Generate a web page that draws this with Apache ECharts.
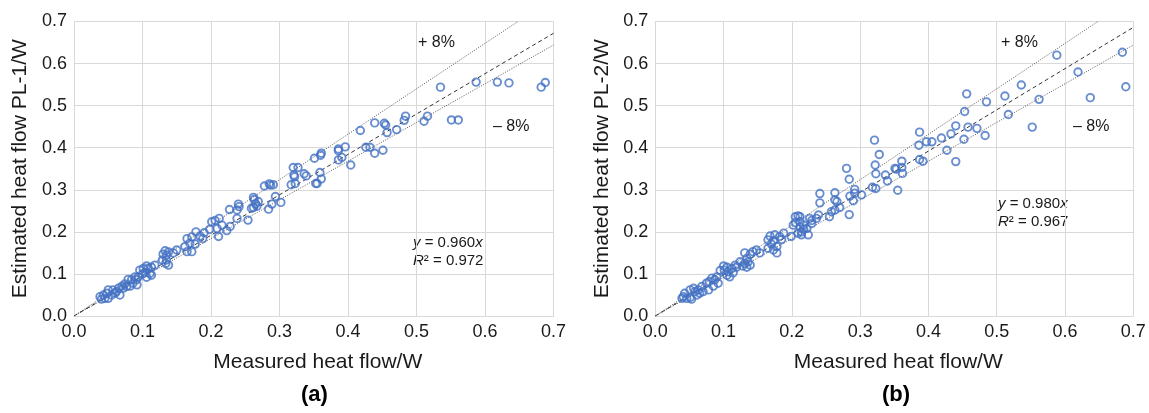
<!DOCTYPE html>
<html><head><meta charset="utf-8">
<script src="https://cdn.jsdelivr.net/npm/echarts@6/dist/echarts.min.js"></script>
<style>html,body{margin:0;padding:0;background:#fff}#c{width:1149px;height:413px}</style>
</head><body><div id="c"></div>
<script>
// ---- data ----
const axisTicks = [0.0, 0.1, 0.2, 0.3, 0.4, 0.5, 0.6, 0.7];
const panelLabels = ['(a)', '(b)'];
const yTitles = ['Estimated heat flow PL-1/W', 'Estimated heat flow PL-2/W'];
const xTitle = 'Measured heat flow/W';
const fitSlopes = [0.960, 0.980];
const fitR2 = ['0.972', '0.967'];
const bandUpper = 1.08;
const bandLower = 0.92;

const measuredA = [0.535,0.587,0.618,0.635,0.682,0.688,0.551,0.561,0.511,0.516,0.484,0.482,0.471,0.457,0.453,0.455,0.439,0.418,0.451,0.439,0.426,0.432,0.404,0.396,0.386,0.386,0.391,0.386,0.361,0.360,0.351,0.327,0.320,0.321,0.322,0.336,0.339,0.359,0.361,0.353,0.355,0.317,0.323,0.278,0.285,0.291,0.287,0.294,0.302,0.289,0.284,0.262,0.263,0.269,0.265,0.267,0.259,0.262,0.254,0.240,0.241,0.238,0.227,0.238,0.228,0.223,0.212,0.206,0.201,0.216,0.209,0.211,0.190,0.198,0.178,0.184,0.188,0.165,0.172,0.169,0.177,0.172,0.165,0.162,0.150,0.145,0.138,0.133,0.135,0.130,0.135,0.138,0.129,0.134,0.118,0.113,0.106,0.101,0.108,0.104,0.111,0.106,0.113,0.096,0.100,0.094,0.089,0.084,0.091,0.086,0.092,0.079,0.082,0.077,0.072,0.070,0.074,0.065,0.062,0.060,0.067,0.057,0.055,0.050,0.048,0.043,0.045,0.038,0.040,0.050];
const estimatedA = [0.544,0.556,0.556,0.554,0.544,0.555,0.466,0.466,0.463,0.475,0.475,0.465,0.443,0.436,0.458,0.454,0.459,0.441,0.394,0.387,0.401,0.401,0.359,0.402,0.397,0.393,0.377,0.371,0.387,0.382,0.375,0.353,0.353,0.335,0.331,0.338,0.333,0.341,0.326,0.315,0.315,0.312,0.315,0.309,0.314,0.312,0.311,0.284,0.270,0.266,0.254,0.282,0.277,0.272,0.267,0.261,0.256,0.258,0.228,0.266,0.260,0.252,0.253,0.232,0.213,0.203,0.232,0.227,0.224,0.216,0.208,0.189,0.198,0.206,0.200,0.190,0.184,0.184,0.188,0.173,0.171,0.153,0.153,0.165,0.157,0.150,0.152,0.155,0.145,0.147,0.133,0.121,0.133,0.125,0.121,0.116,0.119,0.113,0.113,0.103,0.101,0.092,0.097,0.109,0.100,0.093,0.093,0.086,0.086,0.078,0.074,0.087,0.071,0.070,0.066,0.071,0.076,0.066,0.058,0.054,0.050,0.062,0.050,0.062,0.054,0.050,0.042,0.046,0.040,0.042];

const measuredB = [0.588,0.684,0.689,0.619,0.637,0.562,0.536,0.512,0.517,0.552,0.485,0.456,0.453,0.440,0.458,0.471,0.483,0.452,0.433,0.419,0.427,0.440,0.405,0.397,0.387,0.386,0.387,0.392,0.321,0.328,0.322,0.323,0.337,0.340,0.351,0.353,0.361,0.361,0.362,0.355,0.318,0.323,0.302,0.280,0.284,0.241,0.241,0.263,0.263,0.266,0.285,0.292,0.292,0.290,0.284,0.270,0.263,0.258,0.255,0.239,0.236,0.229,0.226,0.212,0.217,0.212,0.222,0.224,0.214,0.229,0.205,0.209,0.212,0.205,0.202,0.214,0.209,0.217,0.199,0.188,0.182,0.185,0.175,0.168,0.165,0.173,0.170,0.165,0.178,0.178,0.173,0.148,0.143,0.153,0.139,0.131,0.134,0.136,0.131,0.139,0.124,0.128,0.134,0.117,0.119,0.112,0.105,0.107,0.101,0.109,0.105,0.114,0.100,0.095,0.090,0.087,0.092,0.083,0.079,0.085,0.075,0.078,0.068,0.063,0.065,0.058,0.061,0.056,0.070,0.051,0.043,0.041,0.046,0.039,0.051,0.053];
const estimatedB = [0.620,0.627,0.545,0.580,0.519,0.515,0.549,0.523,0.479,0.449,0.509,0.528,0.486,0.452,0.449,0.446,0.429,0.420,0.433,0.423,0.394,0.367,0.414,0.414,0.437,0.406,0.372,0.368,0.418,0.384,0.359,0.338,0.335,0.321,0.351,0.349,0.353,0.368,0.339,0.299,0.306,0.303,0.288,0.351,0.325,0.291,0.269,0.293,0.276,0.272,0.285,0.301,0.292,0.274,0.241,0.258,0.252,0.248,0.236,0.240,0.232,0.227,0.232,0.236,0.216,0.212,0.208,0.193,0.193,0.220,0.236,0.238,0.224,0.222,0.216,0.200,0.197,0.206,0.189,0.197,0.189,0.182,0.193,0.190,0.181,0.179,0.171,0.161,0.165,0.150,0.157,0.157,0.153,0.150,0.147,0.150,0.137,0.129,0.125,0.121,0.129,0.119,0.116,0.121,0.116,0.113,0.116,0.105,0.109,0.093,0.097,0.103,0.119,0.108,0.093,0.086,0.078,0.090,0.082,0.071,0.078,0.062,0.070,0.062,0.054,0.058,0.050,0.066,0.058,0.062,0.054,0.046,0.042,0.042,0.044,0.040];

// ---- chart ----
const AX_MIN = axisTicks[0], AX_MAX = axisTicks[axisTicks.length - 1];
const FONT = '"Liberation Sans", Arial, Helvetica, sans-serif';
const GRID_COLOR = '#d9d9d9';
const MARK = '#4472c4';

function pairs(xs, ys) { return xs.map((x, i) => [x, ys[i]]); }
function lineData(s) { const xe = Math.min(AX_MAX, AX_MAX / s); return [[0, 0], [xe, xe * s]]; }

const grids = [
  { left: 74, right: 595.5, top: 21.5, bottom: 97 },
  { left: 655.3, right: 15.7, top: 21.5, bottom: 97 }
];

function axisCommon(isX, name) {
  return {
    type: 'value', min: AX_MIN, max: AX_MAX, interval: 0.1,
    name: name, nameLocation: 'middle',
    nameGap: isX ? 36 : 43,
    nameRotate: isX ? 0 : 90,
    nameTextStyle: { fontFamily: FONT, fontSize: 21, color: '#1a1a1a', padding: isX ? [0, 0, 0, 8] : 0 },
    axisLine: { show: true, lineStyle: { color: GRID_COLOR, width: 1 } },
    axisTick: { show: false },
    axisLabel: { fontFamily: FONT, fontSize: 18, color: '#1a1a1a', margin: 7, formatter: v => v.toFixed(1) },
    splitLine: { show: true, lineStyle: { color: GRID_COLOR, width: 1 } }
  };
}

const xAxes = [0, 1].map(i => Object.assign(axisCommon(true, xTitle), { gridIndex: i }));
const yAxes = [0, 1].map(i => Object.assign(axisCommon(false, yTitles[i]), { gridIndex: i }));

const datasets = [pairs(measuredA, estimatedA), pairs(measuredB, estimatedB)];
const series = [];
[0, 1].forEach(i => {
  const common = { xAxisIndex: i, yAxisIndex: i, type: 'line', symbol: 'none', silent: true, clip: true, z: 3 };
  series.push(Object.assign({}, common, { data: lineData(bandUpper), lineStyle: { color: '#555', width: 1, type: [1, 1.5] } }));
  series.push(Object.assign({}, common, { data: lineData(bandLower), lineStyle: { color: '#555', width: 1, type: [1, 1.5] } }));
  series.push(Object.assign({}, common, { data: lineData(fitSlopes[i]), lineStyle: { color: '#333', width: 1, type: [4, 3] } }));
  series.push({
    type: 'scatter', xAxisIndex: i, yAxisIndex: i, data: datasets[i], z: 4,
    symbol: 'circle', symbolSize: 7.5,
    itemStyle: { color: 'rgba(255,255,255,0)', borderColor: MARK, borderWidth: 1.9 }
  });
});

const txt = (left, top, text, size, extra) => ({
  type: 'text', left: left, top: top,
  style: Object.assign({ text: text, fontFamily: FONT, fontSize: size, fill: '#1a1a1a' }, extra || {})
});
const rich = {
  i: { fontStyle: 'italic', fontFamily: FONT, fontSize: 15, fill: '#1a1a1a' },
  n: { fontFamily: FONT, fontSize: 15, fill: '#1a1a1a' }
};
const eqPos = [[413, 234], [998, 195]];
const plusPos = [[418, 35], [1001, 35]];
const minusPos = [[493, 119], [1073, 119]];
const labelPos = [[317, 384], [898, 384]];
const graphic = [];
[0, 1].forEach(i => {
  graphic.push(txt(plusPos[i][0], plusPos[i][1], '+ 8%', 16));
  graphic.push(txt(minusPos[i][0], minusPos[i][1], '\u2013 8%', 16));
  graphic.push({ type: 'text', left: eqPos[i][0], top: eqPos[i][1],
    style: { text: '{i|y}{n| = ' + fitSlopes[i].toFixed(3) + '}{i|x}\n{i|R}{n|\u00b2 = ' + fitR2[i] + '}', rich: rich, lineHeight: 18, fontFamily: FONT, fontSize: 15, fill: '#1a1a1a' } });
  graphic.push({ type: 'text', left: labelPos[i][0] - 16, top: labelPos[i][1],
    style: { text: panelLabels[i], fontFamily: FONT, fontSize: 22, fontWeight: 'bold', fill: '#000' } });
});

const chart = echarts.init(document.getElementById('c'), null, { renderer: 'canvas' });
chart.setOption({
  animation: false,
  backgroundColor: '#fff',
  grid: grids,
  xAxis: xAxes,
  yAxis: yAxes,
  series: series,
  graphic: graphic
});
</script>
</body></html>
